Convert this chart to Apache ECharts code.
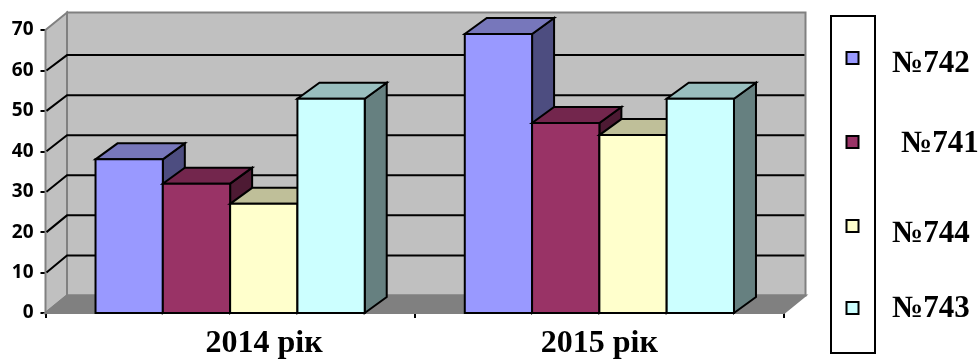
<!DOCTYPE html>
<html>
<head>
<meta charset="utf-8">
<style>html,body{margin:0;padding:0;background:#fff}#chart{width:979px;height:360px}</style>
<script src="https://cdn.jsdelivr.net/npm/echarts@6/dist/echarts.min.js"></script>
</head>
<body>
<div id="chart"></div>
<script>
// Readings per year for each group
const categories = ['2014 рік', '2015 рік'];
const yTicks = [0, 10, 20, 30, 40, 50, 60, 70];
const groupNames = ['№742', '№741', '№744', '№743'];
const group742 = [38, 69];
const group741 = [32, 47];
const group744 = [27, 44];
const group743 = [53, 53];
const groupValues = [group742, group741, group744, group743];

// Face shades: front, top, side
const palette = [
  ['#9999FF', '#7777BB', '#4D4D80'],
  ['#993366', '#73264D', '#4D1A33'],
  ['#FFFFCC', '#BFBF99', '#808066'],
  ['#CCFFFF', '#99BFBF', '#668080']
];

const BAR_W = 67.3;
const BAR_DX = 22, BAR_DY = -16;
const WALL_DX = 21.5, WALL_DY = -17.5;
// The back wall sits further away, so its value scale is slightly compressed
const BACK_SCALE = 0.991;
const EDGE = { stroke: '#000', lineWidth: 2, lineJoin: 'miter' };

function poly(points, fill, extra) {
  return { type: 'polygon', shape: { points }, style: Object.assign({ fill }, EDGE, extra || {}) };
}

// Chart box: left and back walls, floor
function renderWalls(params, api) {
  const c = params.coordSys;
  const x0 = c.x, x1 = c.x + c.width, yb = c.y + c.height, yt = c.y;
  const wall = { stroke: '#808080', lineWidth: 2 };
  return {
    type: 'group',
    children: [
      poly([[x0, yb], [x0 + WALL_DX, yb + WALL_DY], [x0 + WALL_DX, yt + WALL_DY], [x0, yt]], '#C0C0C0', wall),
      poly([[x0 + WALL_DX, yb + WALL_DY], [x1 + WALL_DX, yb + WALL_DY], [x1 + WALL_DX, yt + WALL_DY], [x0 + WALL_DX, yt + WALL_DY]], '#C0C0C0', wall),
      poly([[x0, yb], [x1, yb], [x1 + WALL_DX, yb + WALL_DY], [x0 + WALL_DX, yb + WALL_DY]], '#808080', wall)
    ]
  };
}

// Gridline running across the left wall and along the back wall
function renderGridline(params, api) {
  const c = params.coordSys;
  const y = api.coord([0, api.value(0)])[1];
  const yb = c.y + c.height;
  const x0 = c.x + 1, xa = c.x + WALL_DX, ya = yb + WALL_DY + (y - yb) * BACK_SCALE, xb = c.x + c.width + WALL_DX - 1;
  return {
    type: 'polyline',
    shape: { points: [[x0, y], [xa, ya], [xb, ya]] },
    style: { fill: 'none', stroke: '#000', lineWidth: 2 }
  };
}

// Box-shaped column with front, top and side faces
function renderBar(seriesIndex) {
  const offset = (seriesIndex - 2) * BAR_W;
  const shades = palette[seriesIndex];
  return function (params, api) {
    const top = api.coord([api.value(0), api.value(1)]);
    const base = api.coord([api.value(0), 0]);
    const l = top[0] + offset, r = l + BAR_W, t = top[1], b = base[1];
    return {
      type: 'group',
      children: [
        poly([[r, b], [r + BAR_DX, b + BAR_DY], [r + BAR_DX, t + BAR_DY], [r, t]], shades[2]),
        poly([[l, t], [r, t], [r + BAR_DX, t + BAR_DY], [l + BAR_DX, t + BAR_DY]], shades[1]),
        poly([[l, b], [r, b], [r, t], [l, t]], shades[0])
      ]
    };
  };
}

// Legend entries: frame, swatch row and label position
const legendRows = [
  { y: 58, textX: 892, textY: 64 },
  { y: 142, textX: 901, textY: 144 },
  { y: 226, textX: 892, textY: 234 },
  { y: 308, textX: 892, textY: 309 }
];
const legendGraphics = [{
  type: 'rect',
  shape: { x: 831, y: 16, width: 44, height: 337 },
  style: { fill: '#fff', stroke: '#000', lineWidth: 2 }
}];
legendRows.forEach((row, i) => {
  legendGraphics.push({
    type: 'rect',
    shape: { x: 846.5, y: row.y - 6, width: 12, height: 12 },
    style: { fill: palette[i][0], stroke: '#000', lineWidth: 2 }
  });
  legendGraphics.push({
    type: 'text',
    x: row.textX,
    y: row.textY,
    style: {
      text: groupNames[i],
      font: 'bold 31px "Liberation Serif"',
      fill: '#000',
      textVerticalAlign: 'middle'
    }
  });
});

const chart = echarts.init(document.getElementById('chart'), null, { renderer: 'canvas' });
chart.setOption({
  animation: false,
  backgroundColor: '#fff',
  grid: { left: 45.5, right: 195, top: 30, bottom: 47, containLabel: false },
  xAxis: {
    type: 'category',
    data: categories.map((name, i) => i === 0
      ? { value: name, textStyle: { padding: [0, 0, 0, 68] } }
      : name),
    axisLine: { lineStyle: { color: '#000', width: 2 } },
    axisTick: { show: true, length: 5, alignWithLabel: false, lineStyle: { color: '#000', width: 2 } },
    axisLabel: {
      interval: 0, margin: 15, color: '#000',
      fontFamily: 'Liberation Serif', fontWeight: 'bold', fontSize: 32
    },
    splitLine: { show: false }
  },
  yAxis: {
    type: 'value',
    min: yTicks[0],
    max: yTicks[yTicks.length - 1],
    interval: 10,
    axisLine: { show: true, lineStyle: { color: '#000', width: 2 } },
    axisTick: { show: true, length: 5, lineStyle: { color: '#000', width: 2 } },
    axisLabel: {
      margin: 12, color: '#000', padding: [2, 0, 0, 0],
      fontFamily: 'Open Sans', fontWeight: 'bold', fontSize: 19
    },
    splitLine: { show: false }
  },
  graphic: legendGraphics,
  series: [
    { type: 'custom', name: 'walls', coordinateSystem: 'cartesian2d', z: 1, silent: true, data: [0], renderItem: renderWalls },
    { type: 'custom', name: 'gridlines', coordinateSystem: 'cartesian2d', z: 2, silent: true, data: yTicks.slice(1, -1), encode: { y: 0 }, renderItem: renderGridline }
  ].concat(groupValues.map((values, s) => ({
    type: 'custom',
    name: groupNames[s],
    coordinateSystem: 'cartesian2d',
    z: 3 + s,
    encode: { x: 0, y: 1 },
    data: values.map((v, i) => [i, v]),
    renderItem: renderBar(s)
  })))
});
</script>
</body>
</html>
